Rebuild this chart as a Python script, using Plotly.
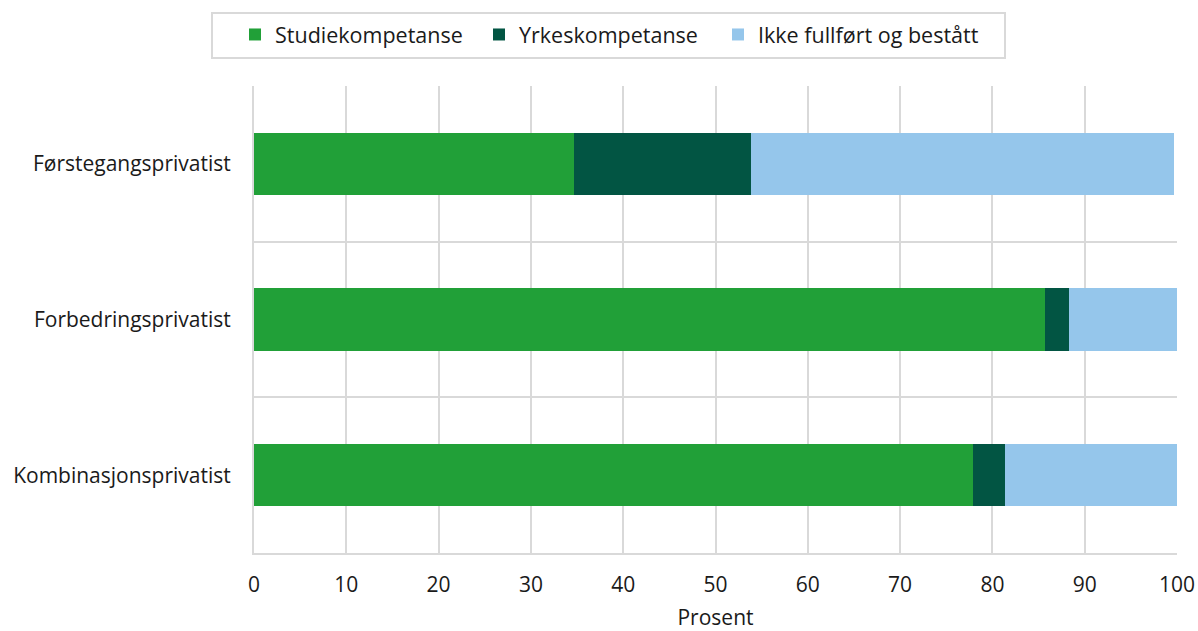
import plotly.graph_objects as go

categories = ["Førstegangsprivatist", "Forbedringsprivatist", "Kombinasjonsprivatist"]
series_names = ["Studiekompetanse", "Yrkeskompetanse", "Ikke fullført og bestått"]
studie = [34.7, 85.7, 77.9]
yrkes = [19.1, 2.6, 3.5]
ikke = [45.9, 11.7, 18.6]
colors = ["#21A038", "#025543", "#95C6EB"]
x_ticks = [0, 10, 20, 30, 40, 50, 60, 70, 80, 90, 100]

W, H = 1198, 631
ML, MR, MT, MB = 254, 21, 86, 78
PW, PH = W - ML - MR, H - MT - MB

legend_ids = ["legend", "legend2", "legend3"]
legend_left_px = [235, 479, 718]

fig = go.Figure()
for name, vals, col, lid in zip(series_names, [studie, yrkes, ikke], colors, legend_ids):
    fig.add_trace(go.Bar(
        y=categories, x=vals, name=name, orientation="h",
        marker=dict(color=col, line=dict(width=0)),
        hoverinfo="x+name", legend=lid, showlegend=True,
    ))

legend_common = dict(
    orientation="h", xref="container", yref="container",
    xanchor="left", yanchor="top", y=1 - 14 / H,
    bgcolor="rgba(0,0,0,0)", borderwidth=0,
    font=dict(size=21.5),
)
legends = {lid: dict(legend_common, x=px / W) for lid, px in zip(legend_ids, legend_left_px)}

def px_to_paper_x(px):
    return (px - ML) / PW

def px_to_paper_y(py):
    return (H - MB - py) / PH

fig.update_layout(
    showlegend=True,
    barmode="stack",
    bargap=0.6,
    width=W, height=H,
    margin=dict(l=ML, r=MR, t=MT, b=MB, autoexpand=False),
    paper_bgcolor="white", plot_bgcolor="white",
    font=dict(family="Open Sans", size=21, color="#1a1a1a"),
    **legends,
    shapes=[dict(
        type="rect", xref="paper", yref="paper",
        x0=px_to_paper_x(212), x1=px_to_paper_x(1005),
        y0=px_to_paper_y(58), y1=px_to_paper_y(13),
        line=dict(color="#D9D9D9", width=2), fillcolor="rgba(0,0,0,0)",
        layer="below",
    )],
    xaxis=dict(
        range=[0, 100], tickvals=x_ticks,
        showgrid=True, gridcolor="#D9D9D9", gridwidth=2,
        showline=True, linecolor="#D9D9D9", linewidth=2,
        zeroline=False, ticks="", ticklabelstandoff=12,
        title=dict(text="Prosent", standoff=20, font=dict(size=21)),
        automargin=False,
        fixedrange=True,
    ),
    yaxis=dict(
        type="category", autorange="reversed",
        tickson="boundaries", showgrid=True, gridcolor="#D9D9D9", gridwidth=2,
        showline=True, linecolor="#D9D9D9", linewidth=2,
        ticks="", ticklabelstandoff=17, zeroline=False,
        automargin=False,
        fixedrange=True,
    ),
)

fig.write_html("out.html", config={"displayModeBar": False},
               post_script="document.body.style.margin='0';")
